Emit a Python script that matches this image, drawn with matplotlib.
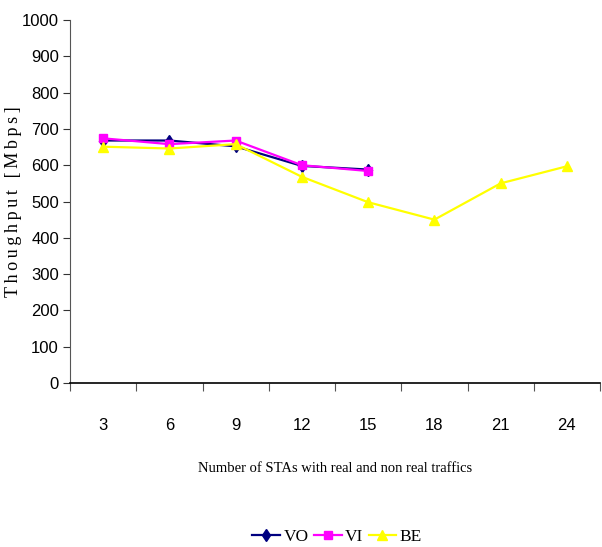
import matplotlib.pyplot as plt
import numpy as np

stas = ['3', '6', '9', '12', '15', '18', '21', '24']
vo = [668, 668, 652, 598, 588]
vi = [674, 658, 668, 600, 584]
be = [651, 646, 658, 568, 498, 450, 550, 597]

sans = ['Liberation Sans', 'DejaVu Sans']
serif = ['Liberation Serif', 'DejaVu Serif']

fig = plt.figure(figsize=(6.02, 5.47), dpi=100)
ax = fig.add_axes([70 / 602, 164 / 547, 530 / 602, 363 / 547])

x = np.arange(len(stas))
ax.plot(x[:len(vo)], vo, color='#000080', marker='d', markersize=6, lw=1.6, label='VO')
ax.plot(x[:len(vi)], vi, color='#ff00ff', marker='s', markersize=6, lw=1.6, label='VI')
ax.plot(x, be, color='#ffff00', marker='^', markersize=7, lw=1.6, label='BE')

ax.set_xlim(-0.5, len(stas) - 0.5)
ax.set_ylim(0, 1000)
ax.set_yticks(range(0, 1001, 100))
ax.set_yticklabels([str(v) for v in range(0, 1001, 100)], family=sans, fontsize=12)
ax.set_xticks(x)
ax.set_xticklabels(stas, family=sans, fontsize=12)
ax.set_xticks(np.arange(-0.5, len(stas), 1), minor=True)
ax.tick_params(axis='y', length=5, width=0.8, color='#333333', pad=3)
ax.xaxis.set_tick_params(which='minor', length=6, width=0.8, color='#555555')
ax.xaxis.set_tick_params(which='major', length=0, pad=25)

for s in ['top', 'right']:
    ax.spines[s].set_visible(False)
ax.spines['left'].set_color('#555555')
ax.spines['bottom'].set_color('black')
ax.spines['bottom'].set_linewidth(1.2)

# spaced-out letters like the original
ylab = '\u2009'.join('Thoughput [Mbps]')
ax.set_ylabel(ylab, family=serif, fontsize=13)
ax.yaxis.set_label_coords(-0.09, 0.5)
ax.set_xlabel('Number of STAs with real and non real traffics', family=serif, fontsize=10.5, labelpad=21)

fig.legend(loc='center', bbox_to_anchor=(0.56, 10 / 547), ncol=3, frameon=False,
           prop={'family': serif, 'size': 12.5}, handlelength=1.6, handletextpad=0.2, columnspacing=0.3)

fig.savefig('out.png', dpi=100)
